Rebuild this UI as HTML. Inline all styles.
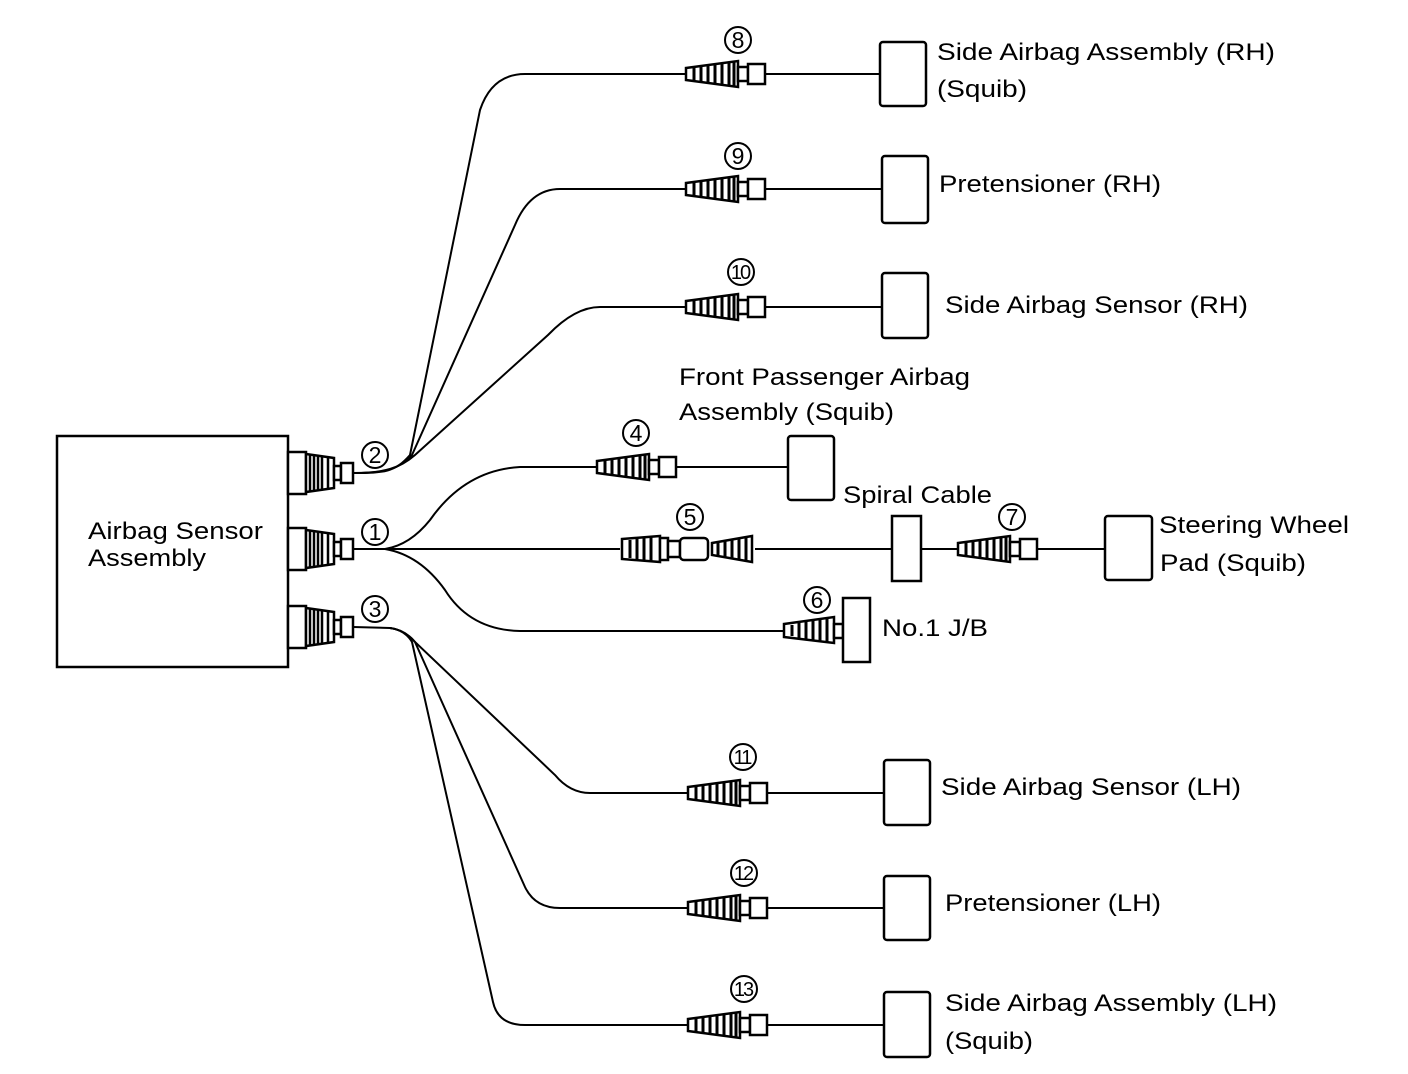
<!DOCTYPE html>
<html><head><meta charset="utf-8"><style>
html,body{margin:0;padding:0;background:#fff}
svg{display:block}
text{font-family:"Liberation Sans",Arial,sans-serif;fill:#000}
</style></head><body>
<svg width="1408" height="1074" viewBox="0 0 1408 1074" xmlns="http://www.w3.org/2000/svg">
<defs>
<g id="cone">
 <polygon points="-52,-6 0,-13 0,13 -52,6" fill="#fff" stroke="#000" stroke-width="2.5"/>
 <path d="M-44,-6v12M-37,-8v16M-30,-9v18M-23,-10v20M-16,-11v22M-9,-12v24M-4,-12v24" stroke="#000" stroke-width="3"/>
 <rect x="0" y="-7" width="10" height="14" fill="#fff" stroke="#000" stroke-width="2.5"/>
 <rect x="10" y="-10" width="17" height="20" fill="#fff" stroke="#000" stroke-width="2.5"/>
</g>
<g id="jack">
 <rect x="0" y="-21" width="18" height="42" fill="#fff" stroke="#000" stroke-width="2.5"/>
 <polygon points="18,-19 46,-15 46,15 18,19" fill="#fff" stroke="#000" stroke-width="2.5"/>
 <path d="M22,-18v36M26,-18v36M30,-17v34M34,-16v32M40,-15v30" stroke="#000" stroke-width="2.5"/>
 <rect x="46" y="-7" width="7" height="14" fill="#fff" stroke="#000" stroke-width="2.5"/>
 <rect x="53" y="-10" width="12" height="20" fill="#fff" stroke="#000" stroke-width="2.5"/>
</g>
</defs>
<g fill="none" stroke="#000" stroke-width="2">
 <path d="M353,473 C385,473 395,472 410,455 L480,110 Q492,74 525,74 L690,74"/>
 <path d="M353,473 C385,473 398,470 412,455 L515,225 Q530,189 560,189 L690,189"/>
 <path d="M353,473 C385,473 400,468 415,455 L548,335 Q575,307 600,307 L690,307"/>
 <path d="M353,549 L385,549 Q410,545 430,520 Q465,470 520,467 L600,467"/>
 <path d="M385,549 L620,549"/>
 <path d="M385,549 Q420,555 445,590 Q470,630 520,631 L786,631"/>
 <path d="M353,627 L390,628 Q405,630 415,642 L555,775 Q570,793 590,793 L690,793"/>
 <path d="M390,628 Q405,630 415,642 L525,887 Q535,908 560,908 L690,908"/>
 <path d="M390,628 Q405,630 412,642 L493,1002 Q498,1025 525,1025 L690,1025"/>
 <path d="M765,74H880M765,189H882M765,307H882M676,467H788M755,549H892M921,549H962M1037,549H1105M765,793H884M765,908H884M765,1025H884"/>
</g>
<rect x="57" y="436" width="231" height="231" fill="#fff" stroke="#000" stroke-width="2.5"/>
<g font-size="24" lengthAdjust="spacingAndGlyphs">
<text x="88" y="539" textLength="175" lengthAdjust="spacingAndGlyphs">Airbag Sensor</text>
<text x="88" y="566" textLength="118" lengthAdjust="spacingAndGlyphs">Assembly</text>
</g>
<use href="#jack" x="288" y="473"/>
<use href="#jack" x="288" y="549"/>
<use href="#jack" x="288" y="627"/>
<use href="#cone" x="738" y="74"/>
<use href="#cone" x="738" y="189"/>
<use href="#cone" x="738" y="307"/>
<use href="#cone" x="649" y="467"/>
<use href="#cone" x="1010" y="549"/>
<use href="#cone" x="740" y="793"/>
<use href="#cone" x="740" y="908"/>
<use href="#cone" x="740" y="1025"/>
<g stroke="#000" stroke-width="2.5" fill="#fff">
 <polygon points="784,624 834,617 834,643 784,637"/>
 <path d="M792,625v11M799,623v15M806,622v17M813,621v19M820,620v21M827,619v23" stroke-width="3"/>
 <rect x="834" y="624" width="9" height="14"/>
 <rect x="843" y="598" width="27" height="64"/>
</g>
<g stroke="#000" stroke-width="2.5" fill="#fff">
 <polygon points="622,539 660,536 660,562 622,559"/>
 <path d="M630,540v18M637,539v20M644,538v22M651,537v24" stroke-width="3"/>
 <rect x="660" y="538" width="8" height="22"/>
 <rect x="668" y="541" width="12" height="16"/>
 <rect x="680" y="538" width="28" height="22" rx="4"/>
 <polygon points="712,543 752,536 752,562 712,555"/>
 <path d="M718,543v12M725,541v16M732,540v18M739,539v20M746,538v22" stroke-width="3"/>
</g>
<g fill="#fff" stroke="#000" stroke-width="2.5">
 <rect x="880" y="42" width="46" height="64" rx="3"/>
 <rect x="882" y="156" width="46" height="67" rx="3"/>
 <rect x="882" y="273" width="46" height="65" rx="3"/>
 <rect x="788" y="436" width="46" height="64" rx="3"/>
 <rect x="892" y="516" width="29" height="65"/>
 <rect x="1105" y="516" width="47" height="64" rx="3"/>
 <rect x="884" y="760" width="46" height="65" rx="3"/>
 <rect x="884" y="876" width="46" height="64" rx="3"/>
 <rect x="884" y="992" width="46" height="65" rx="3"/>
</g>
<g fill="#fff" stroke="#000" stroke-width="2">
 <circle cx="375" cy="455" r="13"/><circle cx="375" cy="532" r="13"/><circle cx="375" cy="609" r="13"/>
 <circle cx="738" cy="40" r="13"/><circle cx="738" cy="156" r="13"/><circle cx="741" cy="272" r="13"/>
 <circle cx="636" cy="433" r="13"/><circle cx="690" cy="517" r="13"/><circle cx="1012" cy="517" r="13"/>
 <circle cx="817" cy="600" r="13"/><circle cx="743" cy="757" r="13"/><circle cx="744" cy="873" r="13"/><circle cx="744" cy="989" r="13"/>
</g>
<g font-size="23" text-anchor="middle">
 <text x="375" y="463">2</text><text x="375" y="540">1</text><text x="375" y="617">3</text>
 <text x="738" y="48">8</text><text x="738" y="164">9</text>
 <text x="636" y="441">4</text><text x="690" y="525">5</text><text x="1012" y="525">7</text><text x="817" y="608">6</text>
</g>
<g font-size="20" text-anchor="middle" letter-spacing="-2">
 <text x="740" y="279">10</text><text x="742" y="764">11</text><text x="743" y="880">12</text><text x="743" y="996">13</text>
</g>
<g font-size="24">
 <text x="937" y="60" textLength="338" lengthAdjust="spacingAndGlyphs">Side Airbag Assembly (RH)</text>
 <text x="937" y="97" textLength="90" lengthAdjust="spacingAndGlyphs">(Squib)</text>
 <text x="939" y="192" textLength="222" lengthAdjust="spacingAndGlyphs">Pretensioner (RH)</text>
 <text x="945" y="313" textLength="303" lengthAdjust="spacingAndGlyphs">Side Airbag Sensor (RH)</text>
 <text x="679" y="385" textLength="291" lengthAdjust="spacingAndGlyphs">Front Passenger Airbag</text>
 <text x="679" y="420" textLength="215" lengthAdjust="spacingAndGlyphs">Assembly (Squib)</text>
 <text x="843" y="503" textLength="149" lengthAdjust="spacingAndGlyphs">Spiral Cable</text>
 <text x="1159" y="533" textLength="190" lengthAdjust="spacingAndGlyphs">Steering Wheel</text>
 <text x="1160" y="571" textLength="146" lengthAdjust="spacingAndGlyphs">Pad (Squib)</text>
 <text x="882" y="636" textLength="106" lengthAdjust="spacingAndGlyphs">No.1 J/B</text>
 <text x="941" y="795" textLength="300" lengthAdjust="spacingAndGlyphs">Side Airbag Sensor (LH)</text>
 <text x="945" y="911" textLength="216" lengthAdjust="spacingAndGlyphs">Pretensioner (LH)</text>
 <text x="945" y="1011" textLength="332" lengthAdjust="spacingAndGlyphs">Side Airbag Assembly (LH)</text>
 <text x="945" y="1049" textLength="88" lengthAdjust="spacingAndGlyphs">(Squib)</text>
</g>
</svg>
</body></html>
